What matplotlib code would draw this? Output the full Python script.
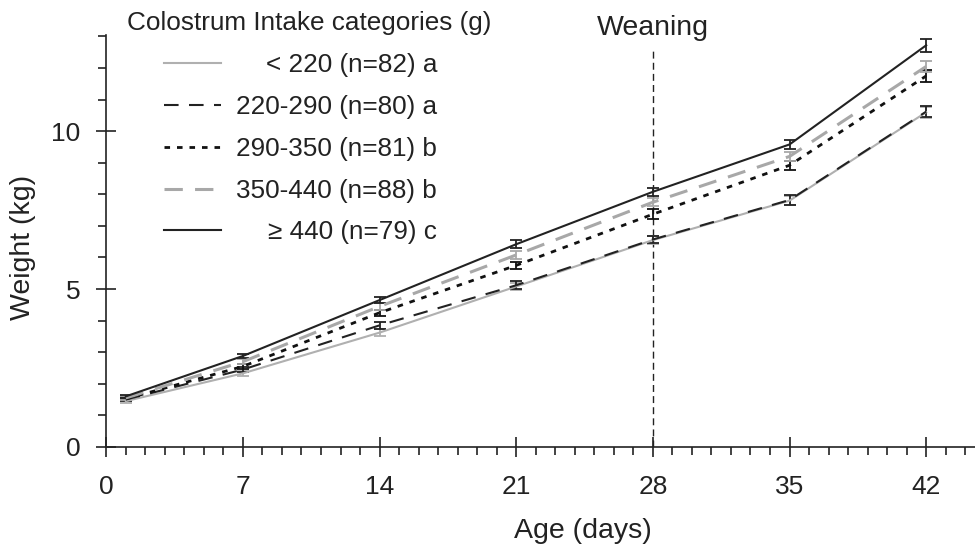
import numpy as np
import matplotlib.pyplot as plt
from matplotlib.ticker import MultipleLocator

plt.rcParams['font.family'] = ['Liberation Sans', 'DejaVu Sans']

# age in days at each weighing
days = [1, 7, 14, 21, 28, 35, 42]

# mean weight (kg) per colostrum intake category
w_lt220 = [1.45, 2.33, 3.62, 5.08, 6.55, 7.80, 10.60]
w_220_290 = [1.50, 2.45, 3.85, 5.12, 6.57, 7.82, 10.62]
w_290_350 = [1.52, 2.55, 4.25, 5.75, 7.37, 8.92, 11.75]
w_350_440 = [1.55, 2.70, 4.45, 6.08, 7.75, 9.20, 12.05]
w_ge440 = [1.60, 2.88, 4.65, 6.42, 8.08, 9.58, 12.72]

# standard errors (kg)
se_lt220 = [0.05, 0.07, 0.10, 0.12, 0.12, 0.15, 0.18]
se_220_290 = [0.05, 0.07, 0.10, 0.12, 0.12, 0.15, 0.18]
se_290_350 = [0.05, 0.07, 0.10, 0.12, 0.15, 0.15, 0.18]
se_350_440 = [0.05, 0.07, 0.10, 0.12, 0.12, 0.15, 0.18]
se_ge440 = [0.05, 0.07, 0.10, 0.12, 0.12, 0.15, 0.20]

labels = ['< 220 (n=82) a', '220-290 (n=80) a', '290-350 (n=81) b',
          '350-440 (n=88) b', '\u2265 440 (n=79) c']
legend_title = 'Colostrum Intake categories (g)'

weaning_day = 28

ink = '#222222'

fig, ax = plt.subplots(figsize=(9.75, 5.45), dpi=100)
fig.subplots_adjust(left=0.109, right=1.0, top=0.936, bottom=0.18)

series = [
    (w_lt220, se_lt220, dict(color='#b0b0b0', lw=1.5, ls='-')),
    (w_220_290, se_220_290, dict(color=ink, lw=1.5, ls=(0, (7, 5)))),
    (w_290_350, se_290_350, dict(color='#111111', lw=2.0, ls=(0, (2, 2.5)))),
    (w_350_440, se_350_440, dict(color='#a8a8a8', lw=2.2, ls=(0, (6, 4)))),
    (w_ge440, se_ge440, dict(color=ink, lw=1.5, ls='-')),
]

handles = []
for (w, se, st), lab in zip(series, labels):
    line, = ax.plot(days, w, label=lab, zorder=3, **st)
    ax.errorbar(days, w, yerr=se, fmt='none', ecolor=st['color'],
                elinewidth=1.3, capsize=4.5, capthick=1.3, zorder=2)
    handles.append(line)

# weaning marker
ax.plot([weaning_day, weaning_day], [0, 12.6], color=ink, lw=1.0,
        ls=(0, (5, 3)), zorder=1)
ax.text(weaning_day, 12.85, 'Weaning', ha='center', va='bottom', fontsize=20.5,
        color=ink, clip_on=False)

ax.set_xlim(0, 44.5)
ax.set_ylim(0, 13.05)
ax.xaxis.set_major_locator(MultipleLocator(7))
ax.xaxis.set_minor_locator(MultipleLocator(1))
ax.yaxis.set_major_locator(MultipleLocator(5))
ax.yaxis.set_minor_locator(MultipleLocator(1))
ax.tick_params(which='major', direction='inout', length=14.5, width=1.2,
               labelsize=19, colors=ink)
ax.tick_params(axis='x', which='major', pad=13)
ax.tick_params(axis='y', which='major', pad=11.5)
ax.tick_params(which='minor', direction='out', length=6, width=1.2,
               colors=ink)

for s in ['top', 'right']:
    ax.spines[s].set_visible(False)
for s in ['left', 'bottom']:
    ax.spines[s].set_linewidth(1.2)
    ax.spines[s].set_color(ink)

# the axis titles are not centred on the axes in the original
ax.set_xlabel('Age (days)', fontsize=20.5, color=ink, labelpad=13.5,
              x=0.549, ha='center')
ax.set_ylabel('Weight (kg)', fontsize=20.5, color=ink, labelpad=11,
              y=0.483, ha='center')

# legend title sits further left than the legend handles
ax.text(0.024, 1.029, legend_title, transform=ax.transAxes, ha='left',
        va='center', fontsize=18.8, color=ink, clip_on=False)
leg = ax.legend(handles=handles, loc='upper left',
                bbox_to_anchor=(0.066, 0.955), frameon=False,
                fontsize=18.8, handlelength=2.2, borderpad=0,
                borderaxespad=0, labelspacing=0.68, handletextpad=0.57)

# right-align the legend labels
fig.canvas.draw()
r = fig.canvas.get_renderer()
texts = leg.get_texts()
widths = [t.get_window_extent(r).width for t in texts]
maxw = max(widths)
for t, wd in zip(texts, widths):
    t.set_color(ink)
    t.set_position((maxw - wd, 0))

fig.savefig('out.png', dpi=100)
